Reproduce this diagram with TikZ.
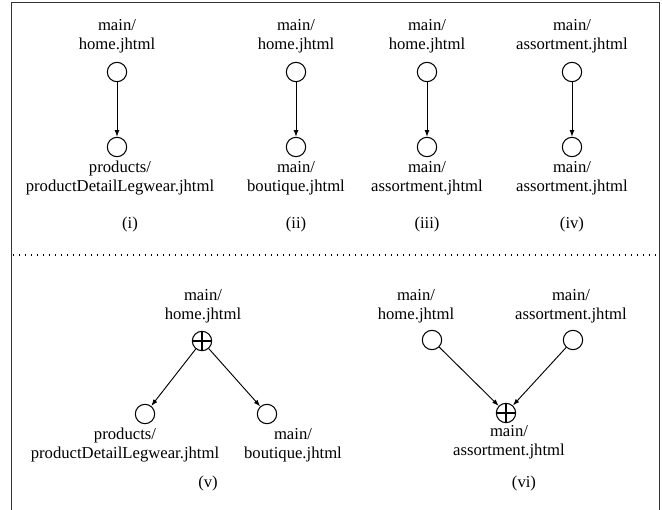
\documentclass[tikz,border=0pt]{standalone}
\usepackage{fontspec}
\setmainfont{Liberation Serif}
\usetikzlibrary{arrows.meta}
\begin{document}
\begin{tikzpicture}[x=0.75pt,y=-0.75pt,
  pg/.style={circle,draw,line width=0.8pt,minimum size=14.5pt,inner sep=0pt},
  pgplus/.style={pg,path picture={\draw[line width=0.8pt]
      (path picture bounding box.north) -- (path picture bounding box.south)
      (path picture bounding box.west) -- (path picture bounding box.east);}},
  lbl/.style={align=center,inner sep=0pt,font=\fontsize{12.5}{14}\selectfont},
  captext/.style={inner sep=0pt,font=\fontsize{12.5}{14}\selectfont},
  link/.style={-{Latex[length=5pt,width=3.6pt]},line width=0.7pt}]
\useasboundingbox (0,0) rectangle (662,510);
% frame and separator
\draw[line width=0.8pt,black!80] (11.5,510) -- (11.5,2.5) -- (659.5,2.5) -- (659.5,510);
\draw[line width=0.8pt,dash pattern=on 0.75pt off 3.75pt] (13,255) -- (659,255);

% ---------- (i)
\node[pg] (a1) at (117,72) {};
\node[pg] (b1) at (117,147) {};
\node[lbl] (la1) at (117,36) {main/\\home.jhtml};
\node[lbl] (lb1) at (120,178) {products/\\productDetailLegwear.jhtml};
\node[captext] (c1) at (130,224) {(i)};
\draw[link] (a1) -- (b1);

% ---------- (ii)
\node[pg] (a2) at (296,72) {};
\node[pg] (b2) at (296,147) {};
\node[lbl] (la2) at (296,36) {main/\\home.jhtml};
\node[lbl] (lb2) at (296,178) {main/\\boutique.jhtml};
\node[captext] (c2) at (296,224) {(ii)};
\draw[link] (a2) -- (b2);

% ---------- (iii)
\node[pg] (a3) at (427,72) {};
\node[pg] (b3) at (427,147) {};
\node[lbl] (la3) at (427,36) {main/\\home.jhtml};
\node[lbl] (lb3) at (427,178) {main/\\assortment.jhtml};
\node[captext] (c3) at (427,224) {(iii)};
\draw[link] (a3) -- (b3);

% ---------- (iv)
\node[pg] (a4) at (572,72) {};
\node[pg] (b4) at (572,147) {};
\node[lbl] (la4) at (572,36) {main/\\assortment.jhtml};
\node[lbl] (lb4) at (572,178) {main/\\assortment.jhtml};
\node[captext] (c4) at (572,224) {(iv)};
\draw[link] (a4) -- (b4);

% ---------- (v)
\node[pgplus] (p5) at (202,341) {};
\node[pg] (l5) at (145,414) {};
\node[pg] (r5) at (267,414) {};
\node[lbl] (lp5) at (203,306) {main/\\home.jhtml};
\node[lbl] (ll5) at (125,445) {products/\\productDetailLegwear.jhtml};
\node[lbl] (lr5) at (293,445) {main/\\boutique.jhtml};
\node[captext] (c5) at (208,483) {(v)};
\draw[link] (p5) -- (l5);
\draw[link] (p5) -- (r5);

% ---------- (vi)
\node[pg] (l6) at (432,340) {};
\node[pg] (r6) at (573,340) {};
\node[pgplus] (p6) at (506,413) {};
\node[lbl] (ll6) at (416,306) {main/\\home.jhtml};
\node[lbl] (lr6) at (571,306) {main/\\assortment.jhtml};
\node[lbl] (lp6) at (509,442) {main/\\assortment.jhtml};
\node[captext] (c6) at (524,483) {(vi)};
\draw[link] (l6) -- (p6);
\draw[link] (r6) -- (p6);
\end{tikzpicture}
\end{document}
